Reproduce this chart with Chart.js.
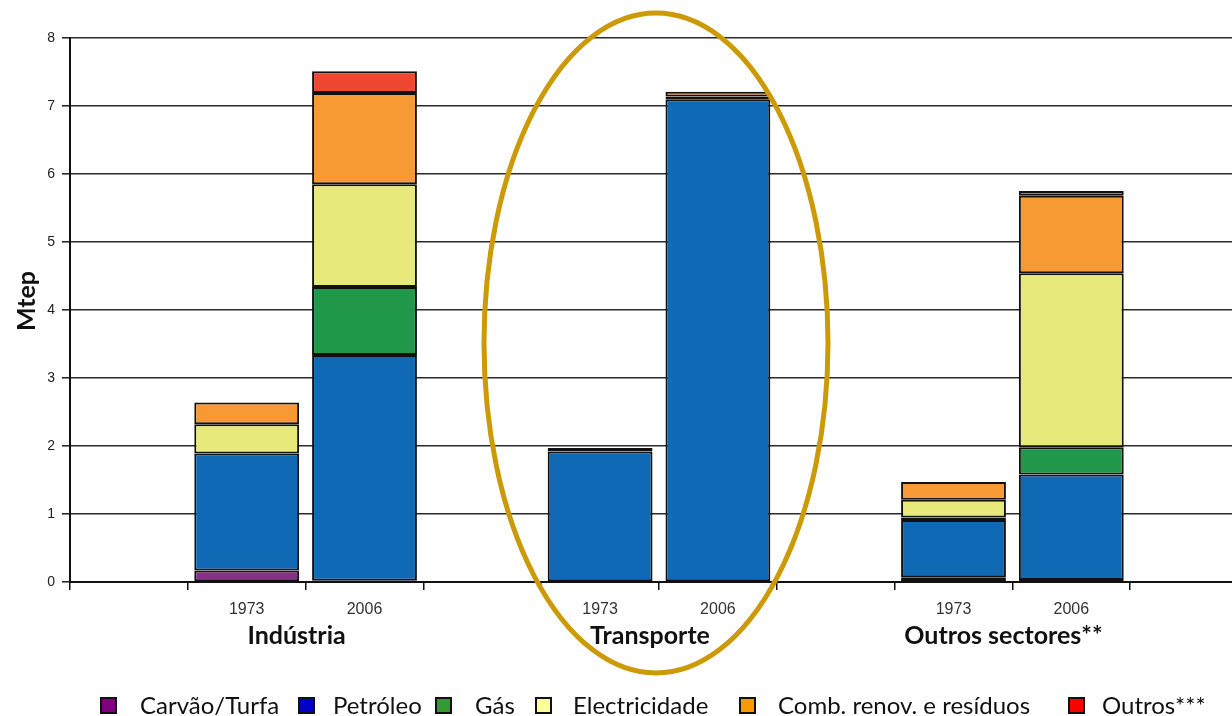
<!DOCTYPE html>
<html>
<head>
<meta charset="utf-8">
<script src="https://cdn.jsdelivr.net/npm/chart.js@4/dist/chart.umd.min.js"></script>
<style>
  html, body { margin: 0; padding: 0; background: #fff; overflow: hidden; width: 1232px; height: 716px; }
  #wrap { position: absolute; left: 0; top: 0; width: 1250px; height: 716px; }
  #legend { position: absolute; left: 0; top: 0; width: 1232px; height: 716px; pointer-events: none;
            font-family: Lato, "Open Sans", sans-serif; font-size: 24px; color: #111; }
  .li { position: absolute; top: 690px; height: 30px; line-height: 30px; white-space: nowrap; }
  .box { position: absolute; top: 7px; width: 13px; height: 13px; border: 2px solid #111; left: 0; }
  .txt { position: absolute; left: 40px; top: 0; }
</style>
</head>
<body>
<div id="wrap"><canvas id="c" width="1250" height="716"></canvas></div>
<div id="legend"></div>
<script>
// ---- data ----
const categories = ['', '1973', '2006', '', '1973', '2006', '', '1973', '2006', ''];
const groupLabels = ['Indústria', 'Transporte', 'Outros sectores**'];
const groupSlots = [[1, 2], [4, 5], [7, 8]];
const seriesNames = ['Carvão/Turfa', 'Petróleo', 'Gás', 'Electricidade', 'Comb. renov. e resíduos', 'Outros***'];
const carvao        = [null, 0.17, 0.02, null, null, null, null, 0.07, 0.03, null];
const petroleo      = [null, 1.72, 3.32, null, 1.92, 7.10, null, 0.84, 1.55, null];
const gas           = [null, null, 1.00, null, null, null, null, 0.04, 0.40, null];
const electricidade = [null, 0.43, 1.51, null, 0.05, 0.04, null, 0.26, 2.56, null];
const combRenov     = [null, 0.32, 1.34, null, null, 0.07, null, 0.26, 1.14, null];
const outros        = [null, null, 0.32, null, null, null, null, null, 0.07, null];
const yTicks = [0, 1, 2, 3, 4, 5, 6, 7, 8];

// ---- styles ----
const barColors = ['#8A2E8E', '#0F69B4', '#21974A', '#E7E97A', '#F79A33', '#EE4831'];
const legendColors = ['#800080', '#0000CC', '#339933', '#FFFF99', '#FF9900', '#FF0000'];
const legendBoxX = [100, 298, 435, 535, 739, 1068];
const legendTextX = [140, 333, 475, 573, 778, 1102];

const seriesData = [carvao, petroleo, gas, electricidade, combRenov, outros];

const datasets = seriesNames.map((name, i) => ({
  label: name,
  data: seriesData[i],
  backgroundColor: barColors[i],
  borderColor: '#111',
  borderWidth: 2,
  borderSkipped: false,
  categoryPercentage: 1.0,
  barPercentage: 0.89
}));

// HTML legend
const leg = document.getElementById('legend');
seriesNames.forEach((name, i) => {
  const d = document.createElement('div');
  d.className = 'li';
  d.style.left = legendBoxX[i] + 'px';
  const b = document.createElement('div');
  b.className = 'box';
  b.style.background = legendColors[i];
  const t = document.createElement('div');
  t.className = 'txt';
  t.style.left = (legendTextX[i] - legendBoxX[i]) + 'px';
  t.textContent = name;
  d.appendChild(b); d.appendChild(t);
  leg.appendChild(d);
});

const decor = {
  id: 'decor',
  afterDraw(chart) {
    const ctx = chart.ctx;
    const x = chart.scales.x;
    // group labels
    ctx.save();
    ctx.fillStyle = '#111';
    ctx.font = 'bold 25px Lato, "Open Sans", sans-serif';
    ctx.textAlign = 'center';
    ctx.textBaseline = 'middle';
    groupLabels.forEach((lab, g) => {
      const px = (x.getPixelForValue(groupSlots[g][0]) + x.getPixelForValue(groupSlots[g][1])) / 2 - 9;
      ctx.fillText(lab, px, 636);
    });
    // y title
    ctx.translate(27, 301);
    ctx.rotate(-Math.PI / 2);
    ctx.font = 'bold 25px Lato, "Open Sans", sans-serif';
    ctx.fillText('Mtep', 0, 0);
    ctx.restore();
    // highlight ellipse around Transporte
    const cx = (x.getPixelForValue(4) + x.getPixelForValue(5)) / 2 - 3;
    ctx.save();
    ctx.strokeStyle = '#CC9A06';
    ctx.lineWidth = 5;
    ctx.beginPath();
    ctx.ellipse(cx, 343, 172, 330, 0, 0, Math.PI * 2);
    ctx.stroke();
    ctx.restore();
  }
};

new Chart(document.getElementById('c'), {
  type: 'bar',
  data: { labels: categories, datasets },
  options: {
    responsive: false,
    animation: false,
    layout: { padding: { left: 0, right: 2, top: 38, bottom: 0 } },
    plugins: { legend: { display: false }, tooltip: { enabled: false }, title: { display: false } },
    scales: {
      x: {
        stacked: true,
        afterFit(s) { s.height = 134; },
        grid: { offset: true, drawOnChartArea: false, drawTicks: true, tickLength: 8, color: '#111', lineWidth: 1.5 },
        border: { display: true, color: '#111', width: 2 },
        ticks: { padding: 10, color: '#333', font: { family: '"Liberation Sans", Arial, sans-serif', size: 16 }, maxRotation: 0, autoSkip: false }
      },
      y: {
        stacked: true,
        min: 0, max: 8,
        afterFit(s) { s.width = 70; },
        afterBuildTicks(s) { s.ticks = yTicks.map(v => ({ value: v })); },
        grid: { color: '#2a2a2a', lineWidth: 1.6, drawTicks: true, tickLength: 8 },
        border: { display: true, color: '#111', width: 2 },
        ticks: { padding: 7, color: '#222', font: { family: '"Liberation Sans", Arial, sans-serif', size: 14 } }
      }
    }
  },
  plugins: [decor]
});
</script>
</body>
</html>
